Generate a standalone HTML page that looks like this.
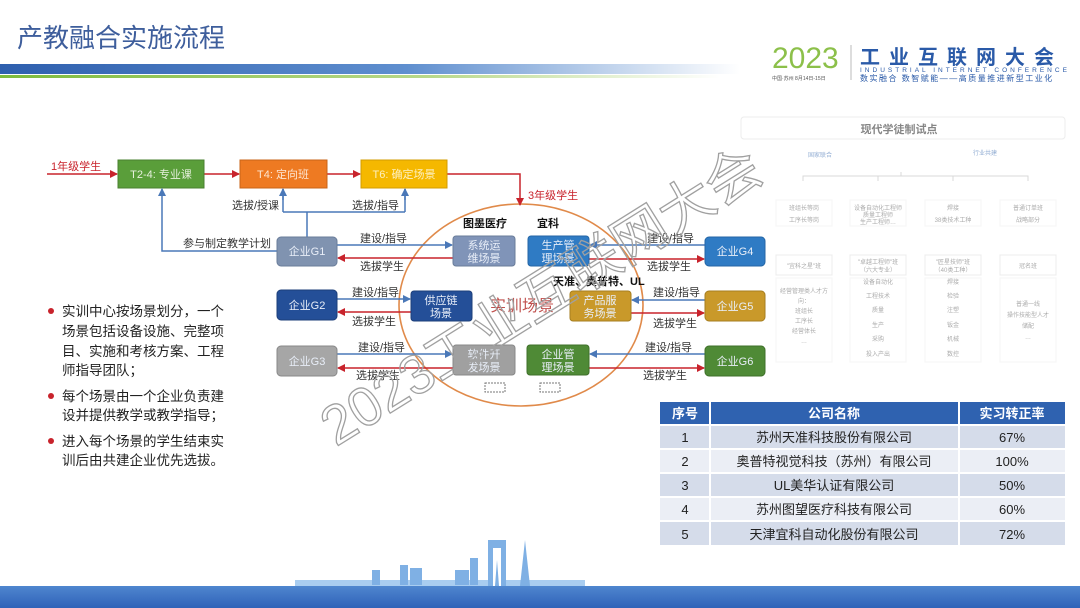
<!DOCTYPE html>
<html><head><meta charset="utf-8"><style>
html,body{margin:0;padding:0;background:#fff;}
svg{display:block;font-family:"Liberation Sans","Noto Sans CJK SC",sans-serif;}
</style></head><body>
<svg width="1080" height="608" viewBox="0 0 1080 608" xmlns="http://www.w3.org/2000/svg">
<defs>
<linearGradient id="bl" x1="0" x2="1"><stop offset="0" stop-color="#2e5fae"/><stop offset="0.55" stop-color="#5f8fcf"/><stop offset="1" stop-color="#ffffff"/></linearGradient>
<linearGradient id="gr" x1="0" x2="1"><stop offset="0" stop-color="#7dbb3c"/><stop offset="0.6" stop-color="#b9d98a"/><stop offset="1" stop-color="#ffffff"/></linearGradient>
<linearGradient id="bot" x1="0" y1="0" x2="0" y2="1"><stop offset="0" stop-color="#4f86cf"/><stop offset="1" stop-color="#2f62b8"/></linearGradient>
<marker id="ar" markerWidth="8" markerHeight="8" refX="7" refY="4" orient="auto" markerUnits="userSpaceOnUse"><path d="M0,0 L8,4 L0,8z" fill="#c8232c"/></marker>
<marker id="ab" markerWidth="8" markerHeight="8" refX="7" refY="4" orient="auto" markerUnits="userSpaceOnUse"><path d="M0,0 L8,4 L0,8z" fill="#4a78b8"/></marker>
</defs>
<text x="17" y="47" font-size="26" fill="#3e5e9c">产教融合实施流程</text>
<rect x="0" y="64" width="740" height="10" fill="url(#bl)"/>
<rect x="0" y="75" width="720" height="3" fill="url(#gr)"/>
<text x="772" y="68" font-size="30" fill="#8cc04a">2023</text>
<line x1="851" y1="45" x2="851" y2="80" stroke="#bbb"/>
<text x="860" y="64" font-size="20" font-weight="bold" fill="#2a5aa8" letter-spacing="9">工业互联网大会</text>
<text x="860" y="72" font-size="6.5" fill="#2a5aa8" letter-spacing="3">INDUSTRIAL INTERNET CONFERENCE</text>
<text x="860" y="81" font-size="8" fill="#2a5aa8" letter-spacing="1.5">数实融合 数智赋能——高质量推进新型工业化</text>
<text x="772" y="80" font-size="5" fill="#555">中国·苏州  8月14日-15日</text>
<g opacity="0.55" font-size="6" fill="#666" text-anchor="middle">
<rect x="741" y="117" width="324" height="22" rx="3" fill="none" stroke="#ddd"/>
<text x="899" y="133" font-size="11" fill="#222" font-weight="bold">现代学徒制试点</text>
<text x="820" y="157" fill="#3a6bb0">国家联合</text><text x="985" y="155" fill="#3a6bb0">行业共建</text>
<path d="M803,181 V176 H1028 V181 M878,176 V181 M953,176 V181 M901,172 V176" stroke="#bbb" fill="none"/>
<rect x="776" y="200" width="56" height="26" fill="none" stroke="#eee"/><text x="804" y="210">班组长等岗</text><text x="804" y="222">工序长等岗</text>
<rect x="850" y="200" width="56" height="26" fill="none" stroke="#eee"/><text x="878" y="210">设备自动化工程师</text><text x="878" y="217">质量工程师</text><text x="878" y="224">生产工程师…</text>
<rect x="925" y="200" width="56" height="26" fill="none" stroke="#eee"/><text x="953" y="210">焊接</text><text x="953" y="222">38类技术工种</text>
<rect x="1000" y="200" width="56" height="26" fill="none" stroke="#eee"/><text x="1028" y="210">普通订单班</text><text x="1028" y="222">战略部分</text>
<rect x="776" y="255" width="56" height="20" fill="none" stroke="#ddd"/><text x="804" y="268">"宜科之星"班</text>
<rect x="850" y="255" width="56" height="20" fill="none" stroke="#ddd"/><text x="878" y="264">"卓越工程师"班</text><text x="878" y="272">（六大专业）</text>
<rect x="925" y="255" width="56" height="20" fill="none" stroke="#ddd"/><text x="953" y="264">"匠星技师"班</text><text x="953" y="272">（40类工种）</text>
<rect x="1000" y="255" width="56" height="20" fill="none" stroke="#ddd"/><text x="1028" y="268">冠名班</text>
<rect x="776" y="278" width="56" height="84" fill="none" stroke="#eee"/><text x="804" y="293">经营管理类人才方</text><text x="804" y="303">向：</text><text x="804" y="313">班组长</text><text x="804" y="323">工序长</text><text x="804" y="333">经营体长</text><text x="804" y="343">…</text>
<rect x="850" y="278" width="56" height="84" fill="none" stroke="#eee"/><text x="878" y="284">设备自动化</text><text x="878" y="298">工程技术</text><text x="878" y="312">质量</text><text x="878" y="327">生产</text><text x="878" y="341">采购</text><text x="878" y="356">投入产出</text>
<rect x="925" y="278" width="56" height="84" fill="none" stroke="#eee"/><text x="953" y="284">焊接</text><text x="953" y="298">检验</text><text x="953" y="312">注塑</text><text x="953" y="327">钣金</text><text x="953" y="341">机械</text><text x="953" y="356">数控</text>
<rect x="1000" y="278" width="56" height="84" fill="none" stroke="#eee"/><text x="1028" y="306">普通一线</text><text x="1028" y="317">操作技能型人才</text><text x="1028" y="328">储配</text><text x="1028" y="339">…</text>
</g>
<ellipse cx="521" cy="305" rx="122" ry="101" fill="none" stroke="#e08a4a" stroke-width="1.6"/>
<g font-size="11">
<line x1="47" y1="174" x2="117" y2="174" stroke="#c8232c" stroke-width="1.5" marker-end="url(#ar)"/>
<text x="51" y="170" fill="#c8232c">1年级学生</text>
<line x1="204" y1="174" x2="239" y2="174" stroke="#c8232c" stroke-width="1.5" marker-end="url(#ar)"/>
<line x1="327" y1="174" x2="360" y2="174" stroke="#c8232c" stroke-width="1.5" marker-end="url(#ar)"/>
<path d="M447,174 H520 V205" stroke="#c8232c" stroke-width="1.5" fill="none" marker-end="url(#ar)"/>
<text x="528" y="199" fill="#c8232c">3年级学生</text>
<rect x="118" y="160" width="86" height="28" fill="#5a9e3a" stroke="#4a8030"/><text x="161" y="178" fill="#e6f0dc" text-anchor="middle">T2-4: 专业课</text>
<rect x="240" y="160" width="87" height="28" fill="#ee7a22" stroke="#c86418"/><text x="283" y="178" fill="#fde6d2" text-anchor="middle">T4: 定向班</text>
<rect x="361" y="160" width="86" height="28" fill="#f5b800" stroke="#d39c00"/><text x="404" y="178" fill="#fdf0c0" text-anchor="middle">T6: 确定场景</text>
<path d="M307,237 V212 M283,212 H405 M283,212 V189 M405,212 V189" stroke="#4a78b8" stroke-width="1.5" fill="none"/>
<line x1="283" y1="200" x2="283" y2="189" stroke="#4a78b8" stroke-width="1.5" marker-end="url(#ab)"/>
<line x1="405" y1="200" x2="405" y2="189" stroke="#4a78b8" stroke-width="1.5" marker-end="url(#ab)"/>
<path d="M277,251 H162 V189" stroke="#4a78b8" stroke-width="1.5" fill="none" marker-end="url(#ab)"/>
<text x="232" y="209" fill="#333">选拔/授课</text>
<text x="352" y="209" fill="#333">选拔/指导</text>
<text x="183" y="247" fill="#333">参与制定教学计划</text>
<line x1="337" y1="245" x2="452" y2="245" stroke="#4a78b8" stroke-width="1.5" marker-end="url(#ab)"/>
<line x1="453" y1="258" x2="338" y2="258" stroke="#c8232c" stroke-width="1.5" marker-end="url(#ar)"/>
<text x="360" y="242" fill="#333">建设/指导</text><text x="360" y="270" fill="#333">选拔学生</text>
<line x1="337" y1="299" x2="410" y2="299" stroke="#4a78b8" stroke-width="1.5" marker-end="url(#ab)"/>
<line x1="411" y1="312" x2="338" y2="312" stroke="#c8232c" stroke-width="1.5" marker-end="url(#ar)"/>
<text x="352" y="296" fill="#333">建设/指导</text><text x="352" y="325" fill="#333">选拔学生</text>
<line x1="337" y1="354" x2="452" y2="354" stroke="#4a78b8" stroke-width="1.5" marker-end="url(#ab)"/>
<line x1="453" y1="368" x2="338" y2="368" stroke="#c8232c" stroke-width="1.5" marker-end="url(#ar)"/>
<text x="358" y="351" fill="#333">建设/指导</text><text x="356" y="379" fill="#333">选拔学生</text>
<line x1="705" y1="245" x2="590" y2="245" stroke="#4a78b8" stroke-width="1.5" marker-end="url(#ab)"/>
<line x1="589" y1="259" x2="704" y2="259" stroke="#c8232c" stroke-width="1.5" marker-end="url(#ar)"/>
<text x="647" y="242" fill="#333">建设/指导</text><text x="647" y="270" fill="#333">选拔学生</text>
<line x1="705" y1="300" x2="632" y2="300" stroke="#4a78b8" stroke-width="1.5" marker-end="url(#ab)"/>
<line x1="631" y1="313" x2="704" y2="313" stroke="#c8232c" stroke-width="1.5" marker-end="url(#ar)"/>
<text x="653" y="296" fill="#333">建设/指导</text><text x="653" y="327" fill="#333">选拔学生</text>
<line x1="705" y1="354" x2="590" y2="354" stroke="#4a78b8" stroke-width="1.5" marker-end="url(#ab)"/>
<line x1="589" y1="368" x2="704" y2="368" stroke="#c8232c" stroke-width="1.5" marker-end="url(#ar)"/>
<text x="645" y="351" fill="#333">建设/指导</text><text x="643" y="379" fill="#333">选拔学生</text>
<g text-anchor="middle" fill="#e8eef8">
<rect x="277" y="237" width="60" height="29" rx="4" fill="#8093b0" stroke="#6a7d9a"/><text x="307" y="255">企业G1</text>
<rect x="277" y="290" width="60" height="30" rx="4" fill="#244f98" stroke="#1d3f7a"/><text x="307" y="309">企业G2</text>
<rect x="277" y="346" width="60" height="30" rx="4" fill="#a6a6a6" stroke="#888"/><text x="307" y="365">企业G3</text>
<rect x="705" y="237" width="60" height="29" rx="4" fill="#2f7bc4" stroke="#2466a6"/><text x="735" y="255">企业G4</text>
<rect x="705" y="291" width="60" height="30" rx="4" fill="#c9992a" stroke="#a67e20"/><text x="735" y="310">企业G5</text>
<rect x="705" y="346" width="60" height="30" rx="4" fill="#4f8a36" stroke="#3f702a"/><text x="735" y="365">企业G6</text>
<rect x="453" y="236" width="62" height="30" rx="3" fill="#8094b8" stroke="#6a7d9a"/><text x="484" y="249">系统运</text><text x="484" y="262">维场景</text>
<rect x="528" y="236" width="61" height="30" rx="3" fill="#2f7bc4" stroke="#2466a6"/><text x="558" y="249">生产管</text><text x="558" y="262">理场景</text>
<rect x="411" y="291" width="61" height="30" rx="3" fill="#244f98" stroke="#1d3f7a"/><text x="441" y="304">供应链</text><text x="441" y="317">场景</text>
<rect x="570" y="291" width="61" height="30" rx="3" fill="#c9992a" stroke="#a67e20"/><text x="600" y="304">产品服</text><text x="600" y="317">务场景</text>
<rect x="453" y="345" width="62" height="30" rx="3" fill="#a0a0a0" stroke="#888"/><text x="484" y="358">软件开</text><text x="484" y="371">发场景</text>
<rect x="527" y="345" width="62" height="30" rx="3" fill="#4f8a36" stroke="#3f702a"/><text x="558" y="358">企业管</text><text x="558" y="371">理场景</text>
</g>
<text x="463" y="227" font-weight="bold" fill="#111">图墨医疗</text>
<text x="537" y="227" font-weight="bold" fill="#111">宜科</text>
<text x="553" y="285" font-weight="bold" fill="#111">天准、奥普特、UL</text>
<text x="490" y="311" font-size="16" fill="#c0504d">实训场景</text>
<rect x="485" y="383" width="20" height="9" fill="none" stroke="#777" stroke-dasharray="2,1"/>
<rect x="540" y="383" width="20" height="9" fill="none" stroke="#777" stroke-dasharray="2,1"/>
</g>
<g font-size="13.5" fill="#222">
<circle cx="51" cy="311" r="3" fill="#c8232c"/><circle cx="51" cy="396" r="3" fill="#c8232c"/><circle cx="51" cy="441" r="3" fill="#c8232c"/>
<text x="62" y="316">实训中心按场景划分，一个</text>
<text x="62" y="336">场景包括设备设施、完整项</text>
<text x="62" y="356">目、实施和考核方案、工程</text>
<text x="62" y="375">师指导团队；</text>
<text x="62" y="401">每个场景由一个企业负责建</text>
<text x="62" y="420">设并提供教学或教学指导；</text>
<text x="62" y="446">进入每个场景的学生结束实</text>
<text x="62" y="465">训后由共建企业优先选拔。</text>
</g>
<g font-size="13" text-anchor="middle">
<rect x="660" y="402" width="405" height="22" fill="#2f62b0"/>
<rect x="709" y="402" width="2" height="145" fill="#fff"/><rect x="958" y="402" width="2" height="145" fill="#fff"/>
<text x="685" y="418" fill="#fff" font-weight="bold">序号</text><text x="834" y="418" fill="#fff" font-weight="bold">公司名称</text><text x="1012" y="418" fill="#fff" font-weight="bold">实习转正率</text>
<rect x="660" y="426" width="49" height="22" fill="#d5dcea"/><rect x="711" y="426" width="247" height="22" fill="#d5dcea"/><rect x="960" y="426" width="105" height="22" fill="#d5dcea"/>
<rect x="660" y="450" width="49" height="22" fill="#ebeef5"/><rect x="711" y="450" width="247" height="22" fill="#ebeef5"/><rect x="960" y="450" width="105" height="22" fill="#ebeef5"/>
<rect x="660" y="474" width="49" height="22" fill="#d5dcea"/><rect x="711" y="474" width="247" height="22" fill="#d5dcea"/><rect x="960" y="474" width="105" height="22" fill="#d5dcea"/>
<rect x="660" y="498" width="49" height="22" fill="#ebeef5"/><rect x="711" y="498" width="247" height="22" fill="#ebeef5"/><rect x="960" y="498" width="105" height="22" fill="#ebeef5"/>
<rect x="660" y="522" width="49" height="23" fill="#d5dcea"/><rect x="711" y="522" width="247" height="23" fill="#d5dcea"/><rect x="960" y="522" width="105" height="23" fill="#d5dcea"/>
<g fill="#222">
<text x="685" y="442">1</text><text x="834" y="442">苏州天准科技股份有限公司</text><text x="1012" y="442">67%</text>
<text x="685" y="466">2</text><text x="834" y="466">奥普特视觉科技（苏州）有限公司</text><text x="1012" y="466">100%</text>
<text x="685" y="490">3</text><text x="834" y="490">UL美华认证有限公司</text><text x="1012" y="490">50%</text>
<text x="685" y="514">4</text><text x="834" y="514">苏州图望医疗科技有限公司</text><text x="1012" y="514">60%</text>
<text x="685" y="539">5</text><text x="834" y="539">天津宜科自动化股份有限公司</text><text x="1012" y="539">72%</text>
</g></g>
<g fill="#7fb0e4">
<rect x="295" y="580" width="290" height="6" fill="#a9cdf0"/>
<rect x="400" y="565" width="8" height="20"/><rect x="410" y="568" width="12" height="17"/>
<rect x="372" y="570" width="8" height="15"/><rect x="470" y="558" width="8" height="27"/><rect x="455" y="570" width="14" height="15"/>
<rect x="488" y="540" width="18" height="46"/><rect x="493" y="548" width="8" height="38" fill="#fff"/>
<path d="M520,586 L525,540 L530,586z"/><path d="M495,586 L497,560 L499,586z"/>
</g>
<rect x="0" y="586" width="1080" height="22" fill="url(#bot)"/>
<text x="0" y="0" font-size="55" fill="none" stroke="#a0a0a0" stroke-width="1.3" transform="translate(336,447) rotate(-32)">2023工业互联网大会</text>
</svg>
</body></html>
